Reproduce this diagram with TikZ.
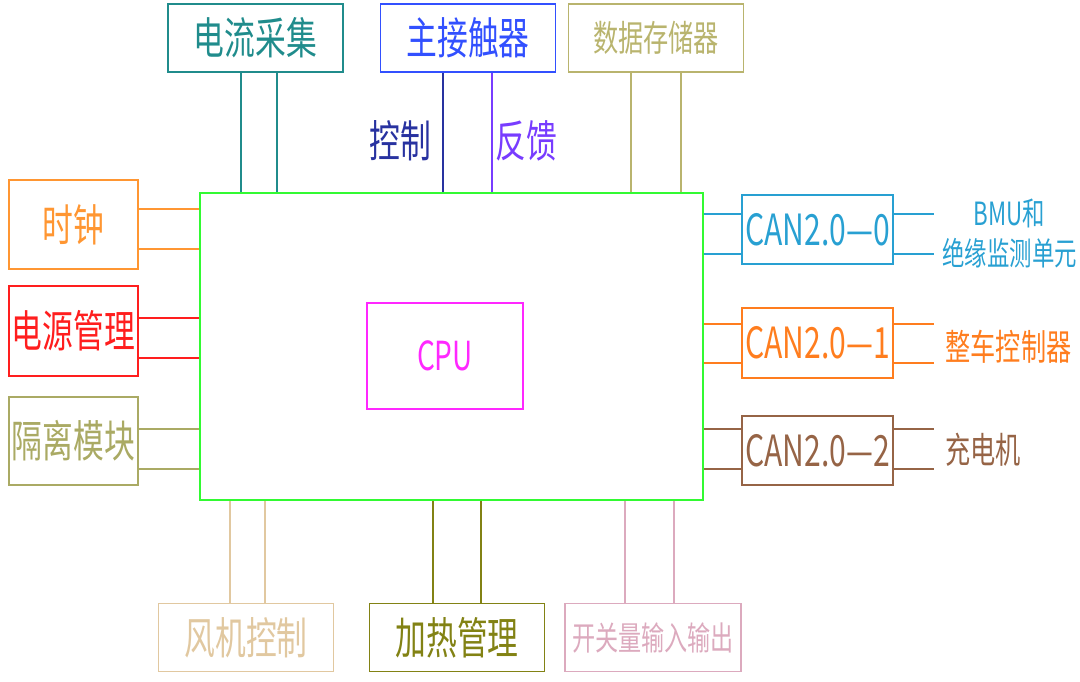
\documentclass[tikz,border=0pt]{standalone}
\usepackage{fontspec}
\newfontfamily\cjk[FakeStretch=0.7]{Noto Sans CJK SC}
\definecolor{boardgreen}{RGB}{50,250,50}
\definecolor{cpumag}{RGB}{255,40,255}
\definecolor{currteal}{RGB}{32,140,140}
\definecolor{contblue}{RGB}{50,80,255}
\definecolor{ctrlblue}{RGB}{40,50,160}
\definecolor{fbpurple}{RGB}{120,60,255}
\definecolor{storekhaki}{RGB}{185,180,110}
\definecolor{clkorange}{RGB}{255,150,50}
\definecolor{pwrred}{RGB}{255,30,30}
\definecolor{isokhaki}{RGB}{170,170,100}
\definecolor{canblue}{RGB}{40,160,210}
\definecolor{canorange}{RGB}{255,125,30}
\definecolor{canbrown}{RGB}{150,100,70}
\definecolor{fantan}{RGB}{225,200,160}
\definecolor{heatolive}{RGB}{130,130,20}
\definecolor{iopink}{RGB}{220,170,190}

\begin{document}
\begin{tikzpicture}[x=0.5pt,y=-0.5pt]
        \tikzstyle{module}=[draw,thick,inner sep=0pt,font=\cjk\fontsize{22pt}{26pt}\selectfont]
        \tikzstyle{topmod}=[module,minimum width=87.5pt,minimum height=34pt]
        \tikzstyle{sidemod}=[module,minimum width=64.5pt,minimum height=44.5pt]
        \tikzstyle{canmod}=[module,minimum width=75.5pt,minimum height=34.5pt,font=\cjk\fontsize{21.5pt}{26pt}\selectfont]
        \tikzstyle{small}=[font=\cjk\fontsize{18pt}{20pt}\selectfont]
        \tikzstyle{peer}=[small,anchor=west,inner xsep=5.5pt,align=center]
        \tikzstyle{wire}=[draw,line width=0.75pt]
        \useasboundingbox (0,0) rectangle (1080,681);
       \begin{scope}
         \node [draw=boardgreen,line width=1pt,minimum width=251.5pt,minimum height=153.5pt] (board) at (451.5,346.5) {};
         \node [module,draw=cpumag,text=cpumag,minimum width=78pt,minimum height=53pt,font=\cjk\fontsize{20pt}{24pt}\selectfont] (cpu) at (445,356) {CPU};

         \node [topmod,draw=currteal,text=currteal] (dlcj) at (255.5,38) {电流采集};
         \node [topmod,draw=contblue,text=contblue] (zjcq) at (468,38) {主接触器};
         \node [topmod,draw=storekhaki,text=storekhaki,small] (sjcc) at (656,38) {数据存储器};

         \node [sidemod,draw=clkorange,text=clkorange] (sz) at (73.5,224.5) {时钟};
         \node [sidemod,draw=pwrred,text=pwrred,minimum height=45pt] (dygl) at (73.5,331) {电源管理};
         \node [sidemod,draw=isokhaki,text=isokhaki,minimum height=44pt] (glmk) at (73.5,441) {隔离模块};

         \node [canmod,draw=canblue,text=canblue] (can0) at (817.5,229.5) {CAN2.0—0};
         \node [canmod,draw=canorange,text=canorange,minimum height=35pt] (can1) at (817.5,343) {CAN2.0—1};
         \node [canmod,draw=canbrown,text=canbrown] (can2) at (817.5,450.5) {CAN2.0—2};

         \node [peer,text=canblue,inner xsep=4pt,font=\cjk\fontsize{16pt}{20pt}\selectfont] (bmu) at (934,233) {BMU和\\绝缘监测单元};
         \node [peer,text=canorange] (zckz) at (934,347) {整车控制器};
         \node [peer,text=canbrown] (cdj) at (934,450) {充电机};

         \node [topmod,draw=fantan,text=fantan] (fjkz) at (246,637.5) {风机控制};
         \node [topmod,draw=heatolive,text=heatolive] (jrgl) at (457,637.5) {加热管理};
         \node [topmod,draw=iopink,text=iopink,font=\cjk\fontsize{16.5pt}{20pt}\selectfont,minimum width=88pt] (kgl) at (653,637.5) {开关量输入输出};

         \foreach \x in {241,277} \path[wire,draw=currteal] (\x,0 |- dlcj.south) -- (\x,0 |- board.north);
         \path[wire,draw=ctrlblue] (443,0 |- zjcq.south) -- node[pos=0.57,left,inner xsep=5.5pt,text=ctrlblue,font=\cjk\fontsize{22pt}{26pt}\selectfont] (kz) {控制} (443,0 |- board.north);
         \path[wire,draw=fbpurple] (492,0 |- zjcq.south) -- node[pos=0.57,right,inner xsep=1.5pt,text=fbpurple,font=\cjk\fontsize{22pt}{26pt}\selectfont] (fk) {反馈} (492,0 |- board.north);
         \foreach \x in {631,681} \path[wire,draw=storekhaki] (\x,0 |- sjcc.south) -- (\x,0 |- board.north);

         \foreach \y in {209,249} \path[wire,draw=clkorange] (sz.east |- 0,\y) -- (board.west |- 0,\y);
         \foreach \y in {318,358} \path[wire,draw=pwrred] (dygl.east |- 0,\y) -- (board.west |- 0,\y);
         \foreach \y in {429,469} \path[wire,draw=isokhaki] (glmk.east |- 0,\y) -- (board.west |- 0,\y);

         \foreach \y in {214,254} {
           \path[wire,draw=canblue] (board.east |- 0,\y) -- (can0.west |- 0,\y);
           \path[wire,draw=canblue] (can0.east |- 0,\y) -- (bmu.west |- 0,\y);
         }
         \foreach \y in {324,363} {
           \path[wire,draw=canorange] (board.east |- 0,\y) -- (can1.west |- 0,\y);
           \path[wire,draw=canorange] (can1.east |- 0,\y) -- (zckz.west |- 0,\y);
         }
         \foreach \y in {429,469} {
           \path[wire,draw=canbrown] (board.east |- 0,\y) -- (can2.west |- 0,\y);
           \path[wire,draw=canbrown] (can2.east |- 0,\y) -- (cdj.west |- 0,\y);
         }

         \foreach \x in {230,265} \path[wire,draw=fantan] (\x,0 |- board.south) -- (\x,0 |- fjkz.north);
         \foreach \x in {433,481} \path[wire,draw=heatolive] (\x,0 |- board.south) -- (\x,0 |- jrgl.north);
         \foreach \x in {625,674} \path[wire,draw=iopink] (\x,0 |- board.south) -- (\x,0 |- kgl.north);
        \end{scope}
      \end{tikzpicture}
\end{document}
